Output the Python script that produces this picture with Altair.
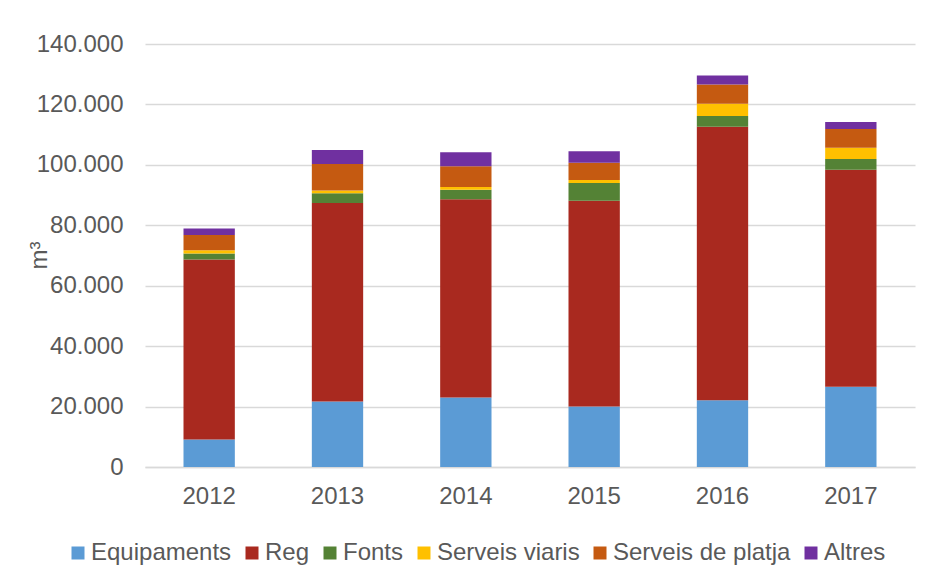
import altair as alt
import pandas as pd

years = ["2012", "2013", "2014", "2015", "2016", "2017"]
series = ["Equipaments", "Reg", "Fonts", "Serveis viaris", "Serveis de platja", "Altres"]
colors = ["#5B9BD5", "#A9291F", "#548235", "#FFC000", "#C55A11", "#7030A0"]

equipaments = [9100, 21700, 23000, 20000, 22100, 26600]
reg = [59600, 65700, 65600, 68100, 90500, 71800]
fonts = [2000, 3200, 3200, 5900, 3600, 3500]
serveis_viaris = [1000, 900, 900, 1000, 4000, 3800]
serveis_platja = [5100, 8800, 6800, 5700, 6400, 6200]
altres = [2100, 4600, 4700, 3800, 3000, 2300]

values = [equipaments, reg, fonts, serveis_viaris, serveis_platja, altres]

rows = []
for si, (name, vals) in enumerate(zip(series, values)):
    for y, v in zip(years, vals):
        rows.append({"Any": y, "Sèrie": name, "Valor": v, "ordre": si})
df = pd.DataFrame(rows)

FONT = "Liberation Sans"
GRAY = "#595959"

chart = alt.Chart(df).mark_bar().encode(
    x=alt.X("Any:N", sort=years, title=None,
            scale=alt.Scale(paddingInner=0.6, paddingOuter=0.3),
            axis=alt.Axis(labelAngle=0, labelFont=FONT, labelFontSize=24,
                          labelColor=GRAY, ticks=False, labelPadding=17,
                          domainColor="#d9d9d9", domainWidth=1.5)),
    y=alt.Y("Valor:Q", stack="zero",
            scale=alt.Scale(domain=[0, 140000], nice=False),
            axis=alt.Axis(title="m³", values=[0, 20000, 40000, 60000, 80000, 100000, 120000, 140000],
                          labelExpr="replace(format(datum.value, ',d'), ',', '.')",
                          labelFont=FONT, labelFontSize=24, labelColor=GRAY,
                          ticks=False, tickSize=0, labelPadding=22, domain=False,
                          gridColor="#d9d9d9", gridWidth=1.5,
                          titleFont=FONT, titleFontSize=24, titleColor=GRAY,
                          titleFontWeight="normal", titleAngle=-90,
                          titleX=-99, titleY=211, titleBaseline="alphabetic",
                          titleAlign="center")),
    color=alt.Color("Sèrie:N", sort=series,
                    scale=alt.Scale(domain=series, range=colors),
                    legend=alt.Legend(title=None, orient="none", direction="horizontal",
                                      legendX=-79, legendY=497,
                                      symbolType="square", symbolSize=169,
                                      symbolStrokeWidth=0, symbolOpacity=1,
                                      labelFont=FONT, labelFontSize=24, labelColor=GRAY,
                                      labelLimit=400, labelOffset=1, columnPadding=8)),
    order=alt.Order("ordre:Q", sort="ascending"),
).properties(
    width=770,
    height=423,
    background="white",
    autosize=alt.AutoSizeParams(type="none"),
    padding={"left": 137, "top": 36, "right": 3, "bottom": 100},
).configure_view(stroke=None)

chart.save("out.html", embed_options={"renderer": "svg", "actions": False})
